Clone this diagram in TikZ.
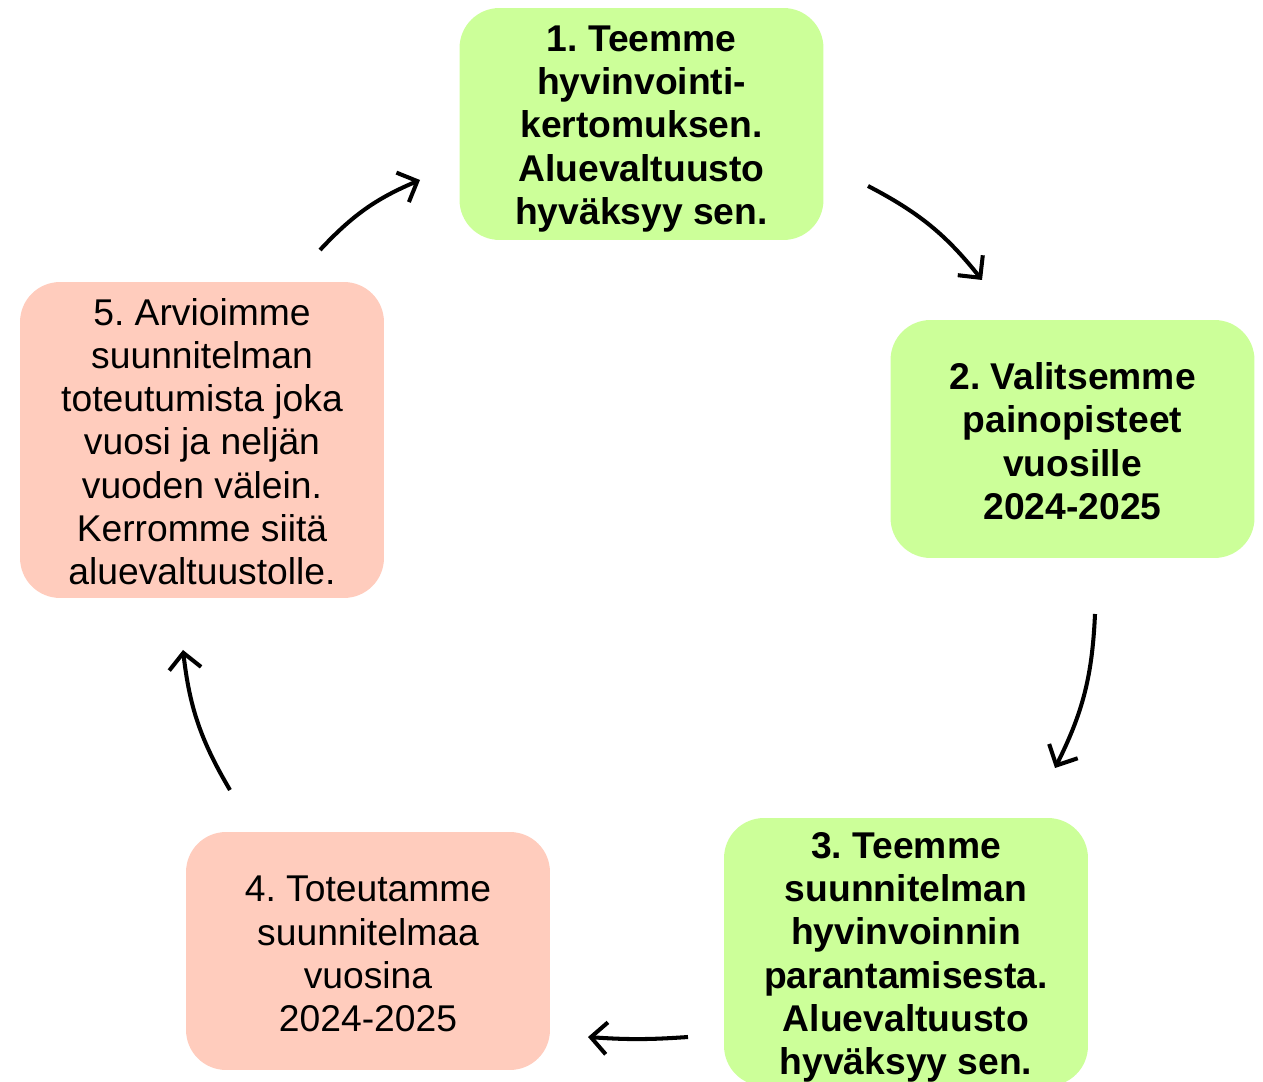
\documentclass[tikz,border=0pt]{standalone}
\usepackage{fontspec}
\setmainfont{Liberation Sans}
\usetikzlibrary{arrows.meta}
\definecolor{stepgreen}{RGB}{204,255,153}
\definecolor{stepred}{RGB}{255,204,189}
\newcommand{\toplift}[1]{\rule{0pt}{#1}}
\tikzset{
  stepbox/.style={rounded corners=0.8cm, minimum width=7.28cm, align=center,
    font=\fontsize{21.2}{24.6}\selectfont, inner sep=0pt},
  greenbox/.style={stepbox, fill=stepgreen, font=\fontsize{21.2}{24.6}\selectfont\bfseries},
  redbox/.style={stepbox, fill=stepred},
  cyclearrow/.style={line width=2.3pt, -{Straight Barb[length=3.2mm, width=6.4mm, line width=2.3pt]}, bend left=12}
}
\begin{document}
\frenchspacing
\begin{tikzpicture}[x=0.02cm, y=0.02cm]
 	\useasboundingbox (0,0) rectangle (1263,1081);
 	% Nodes
 	\node[greenbox, minimum height=4.64cm] (s1) at (641.5,957) {\toplift{0.715cm}1. Teemme\\hyvinvointi-\\kertomuksen.\\Aluevaltuusto\\hyväksyy sen.};
 	\node[greenbox, minimum height=4.76cm] (s2) at (1072.5,642) {\toplift{0.63cm}2. Valitsemme\\painopisteet\\vuosille\\2024-2025};
 	\node[greenbox, minimum height=5.36cm] (s3) at (906,129) {\toplift{0.735cm}3. Teemme\\suunnitelman\\hyvinvoinnin\\parantamisesta.\\Aluevaltuusto\\hyväksyy sen.};
 	\node[redbox, minimum height=4.76cm] (s4) at (368,130) {\toplift{0.635cm}4. Toteutamme\\suunnitelmaa\\vuosina\\2024-2025};
 	\node[redbox, minimum height=6.32cm] (s5) at (202,641) {\toplift{0.6cm}5. Arvioimme\\suunnitelman\\toteutumista joka\\vuosi ja neljän\\vuoden välein.\\Kerromme siitä\\aluevaltuustolle.};
 	% Arrow ends
 	\coordinate (a1s) at (320,831);  \coordinate (a1e) at (420,901);
 	\coordinate (a2s) at (868,895);  \coordinate (a2e) at (982,801);
 	\coordinate (a3s) at (1095,467); \coordinate (a3e) at (1055,313);
 	\coordinate (a4s) at (688,44);   \coordinate (a4e) at (588,44);
 	\coordinate (a5s) at (230,291);  \coordinate (a5e) at (183,431);
 	% Edges
 	\draw[cyclearrow] (a1s) to (a1e);
 	\draw[cyclearrow] (a2s) to (a2e);
 	\draw[cyclearrow] (a3s) to (a3e);
 	\draw[cyclearrow, bend left=4] (a4s) to (a4e);
 	\draw[cyclearrow] (a5s) to (a5e);
\end{tikzpicture}
\end{document}
